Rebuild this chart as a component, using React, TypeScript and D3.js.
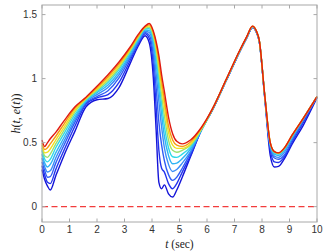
import * as d3 from 'd3';

// sample times (sec)
const times = [0, 0.1, 0.2, 0.3, 0.5, 0.8, 1.2, 1.6, 2.0, 2.4, 2.8, 3.2, 3.5, 3.75, 3.9,
  4.05, 4.15, 4.25, 4.35, 4.45, 4.6, 4.75, 4.9, 5.1, 5.4, 5.8, 6.2, 6.7, 7.2, 7.45, 7.65, 7.8, 7.9,
  8.1, 8.3, 8.45, 8.6, 8.8, 9.1, 9.5, 10];

// h(t, e(t)) per run, lowest (blue) to highest (red)
const runs = [
  [0.29, 0.21, 0.16, 0.13, 0.24, 0.40, 0.59, 0.78, 0.835, 0.845, 0.93, 1.115, 1.255, 1.335, 1.28,
    1.00, 0.60, 0.19, 0.14, 0.17, 0.10, 0.075, 0.13, 0.23, 0.39, 0.60, 0.755, 0.985, 1.215, 1.32, 1.398, 1.36, 1.29,
    0.85, 0.40, 0.31, 0.315, 0.37, 0.49, 0.635, 0.85],
  [0.32, 0.245, 0.19, 0.18, 0.29, 0.44, 0.63, 0.80, 0.85, 0.875, 0.97, 1.14, 1.27, 1.35, 1.315,
    1.10, 0.78, 0.44, 0.30, 0.27, 0.18, 0.14, 0.18, 0.27, 0.40, 0.60, 0.755, 0.985, 1.215, 1.32, 1.399, 1.361, 1.291,
    0.855, 0.44, 0.35, 0.345, 0.385, 0.505, 0.655, 0.855],
  [0.35, 0.28, 0.23, 0.235, 0.34, 0.48, 0.66, 0.81, 0.86, 0.905, 1.005, 1.16, 1.28, 1.36, 1.34,
    1.18, 0.93, 0.66, 0.48, 0.36, 0.25, 0.205, 0.23, 0.30, 0.42, 0.60, 0.76, 0.987, 1.217, 1.322, 1.401, 1.363, 1.293,
    0.86, 0.46, 0.38, 0.37, 0.40, 0.52, 0.67, 0.855],
  [0.38, 0.31, 0.27, 0.28, 0.38, 0.51, 0.68, 0.82, 0.875, 0.93, 1.03, 1.175, 1.29, 1.37, 1.36,
    1.24, 1.04, 0.82, 0.62, 0.46, 0.33, 0.275, 0.29, 0.34, 0.43, 0.60, 0.76, 0.988, 1.218, 1.323, 1.402, 1.364, 1.294,
    0.862, 0.47, 0.395, 0.385, 0.42, 0.535, 0.68, 0.86],
  [0.41, 0.34, 0.31, 0.33, 0.42, 0.54, 0.70, 0.825, 0.89, 0.95, 1.05, 1.19, 1.30, 1.38, 1.375,
    1.28, 1.12, 0.92, 0.72, 0.55, 0.40, 0.335, 0.34, 0.375, 0.45, 0.60, 0.76, 0.99, 1.22, 1.325, 1.404, 1.366, 1.296,
    0.865, 0.48, 0.41, 0.40, 0.435, 0.545, 0.685, 0.86],
  [0.44, 0.37, 0.35, 0.37, 0.46, 0.57, 0.72, 0.83, 0.90, 0.97, 1.07, 1.205, 1.31, 1.39, 1.39,
    1.31, 1.18, 0.99, 0.80, 0.63, 0.46, 0.39, 0.385, 0.41, 0.465, 0.60, 0.76, 0.99, 1.22, 1.326, 1.405, 1.367, 1.297,
    0.867, 0.49, 0.42, 0.41, 0.445, 0.55, 0.69, 0.86],
  [0.46, 0.395, 0.385, 0.41, 0.49, 0.595, 0.74, 0.84, 0.91, 0.985, 1.085, 1.215, 1.32, 1.395, 1.40,
    1.33, 1.22, 1.05, 0.87, 0.71, 0.52, 0.44, 0.425, 0.44, 0.48, 0.605, 0.762, 0.992, 1.222, 1.327, 1.407, 1.368, 1.298,
    0.868, 0.495, 0.425, 0.415, 0.45, 0.555, 0.69, 0.86],
  [0.48, 0.42, 0.425, 0.45, 0.52, 0.62, 0.755, 0.845, 0.92, 1.00, 1.10, 1.225, 1.33, 1.40, 1.41,
    1.35, 1.25, 1.10, 0.93, 0.78, 0.58, 0.48, 0.455, 0.455, 0.49, 0.61, 0.762, 0.992, 1.222, 1.328, 1.408, 1.369, 1.299,
    0.87, 0.50, 0.43, 0.42, 0.455, 0.56, 0.69, 0.86],
  [0.50, 0.445, 0.46, 0.49, 0.55, 0.645, 0.77, 0.85, 0.93, 1.015, 1.115, 1.235, 1.335, 1.405, 1.42,
    1.36, 1.27, 1.14, 0.98, 0.84, 0.63, 0.52, 0.48, 0.47, 0.505, 0.615, 0.764, 0.994, 1.224, 1.329, 1.409, 1.37, 1.30,
    0.87, 0.50, 0.43, 0.42, 0.455, 0.56, 0.69, 0.86],
  [0.52, 0.47, 0.50, 0.53, 0.58, 0.67, 0.78, 0.855, 0.94, 1.03, 1.13, 1.245, 1.345, 1.41, 1.43,
    1.37, 1.29, 1.18, 1.03, 0.90, 0.70, 0.57, 0.51, 0.49, 0.52, 0.62, 0.765, 0.995, 1.225, 1.33, 1.41, 1.37, 1.30,
    0.87, 0.50, 0.43, 0.42, 0.455, 0.56, 0.69, 0.86],
];

const runColors = ['#1414d8', '#2233ee', '#2f5cf5', '#3a8cf8', '#30b4f4', '#2fd9e8',
  '#9be070', '#f0e020', '#f89a10', '#e01a10'];

const xTicks = [0, 1, 2, 3, 4, 5, 6, 7, 8, 9, 10];
const yTicks = [0, 0.5, 1, 1.5];
const refLevel = 0;

const width = 334;
const height = 252;
const margin = { top: 5, right: 17, bottom: 30, left: 42 };

export default function App() {
  const x = d3.scaleLinear().domain([0, 10]).range([margin.left, width - margin.right]);
  const y = d3.scaleLinear().domain([-0.12, 1.575]).range([height - margin.bottom, margin.top]);

  const line = d3.line<number>()
    .x((_, i) => x(times[i]))
    .y(d => y(d))
    .curve(d3.curveMonotoneX);

  const axisColor = '#a8a8a8';
  const tickLen = 3.5;
  const x0 = margin.left, x1 = width - margin.right;
  const y0 = height - margin.bottom, y1 = margin.top;
  const tickFont = '"Liberation Sans", Arial, sans-serif';
  const mathFont = '"Liberation Serif", "DejaVu Serif", serif';

  return (
    <svg width={width} height={height} style={{ position: 'absolute', left: 0, top: 0 }}>
      <rect width={width} height={height} fill="#fff" />

      {/* runs */}
      <g fill="none" strokeWidth={1.4} strokeLinejoin="round">
        {runs.map((r, i) => (
          <path key={i} d={line(r) || ''} stroke={runColors[i]} />
        ))}
      </g>

      {/* zero reference */}
      <line x1={x0} x2={x1} y1={y(refLevel)} y2={y(refLevel)}
        stroke="#f23c3c" strokeWidth={1.4} strokeDasharray="6,3.5" />

      {/* box + ticks */}
      <rect x={x0} y={y1} width={x1 - x0} height={y0 - y1} fill="none" stroke={axisColor} strokeWidth={1} />
      {xTicks.map(t => (
        <g key={'x' + t}>
          <line x1={x(t)} x2={x(t)} y1={y0} y2={y0 - tickLen} stroke={axisColor} />
          <line x1={x(t)} x2={x(t)} y1={y1} y2={y1 + tickLen} stroke={axisColor} />
          <text x={x(t)} y={y0 + 11} textAnchor="middle" fontSize={10} fill="#333" fontFamily={tickFont}>{t}</text>
        </g>
      ))}
      {yTicks.map(t => (
        <g key={'y' + t}>
          <line x1={x0} x2={x0 + tickLen} y1={y(t)} y2={y(t)} stroke={axisColor} />
          <line x1={x1} x2={x1 - tickLen} y1={y(t)} y2={y(t)} stroke={axisColor} />
          <text x={x0 - 5} y={y(t) + 3.5} textAnchor="end" fontSize={10} fill="#333" fontFamily={tickFont}>{t}</text>
        </g>
      ))}

      {/* labels */}
      <text x={(x0 + x1) / 2} y={248} textAnchor="middle" fontSize={11.5} fill="#222" fontFamily={mathFont}>
        <tspan fontStyle="italic">t</tspan> (sec)
      </text>
      <text transform={`translate(20,${(y0 + y1) / 2}) rotate(-90)`} textAnchor="middle" fontSize={12}
        fill="#222" fontFamily={mathFont}>
        <tspan fontStyle="italic">h</tspan>(<tspan fontStyle="italic">t</tspan>, <tspan fontStyle="italic">e</tspan>(<tspan fontStyle="italic">t</tspan>))
      </text>
    </svg>
  );
}
